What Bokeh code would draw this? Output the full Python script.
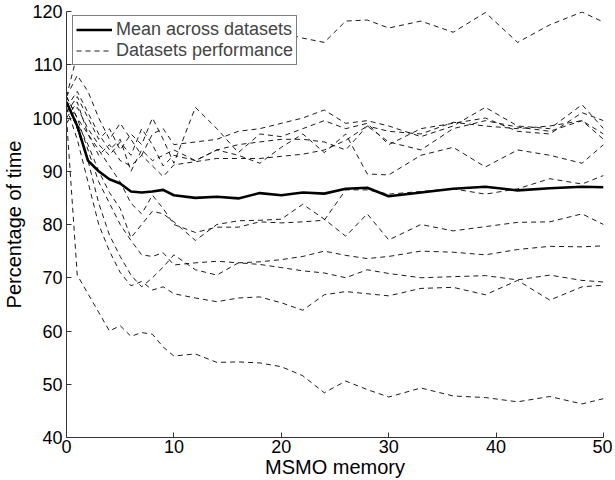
from bokeh.plotting import figure
from bokeh.models import Legend, LegendItem, FixedTicker, Range1d
from bokeh.embed import file_html
from bokeh.resources import INLINE

memory = [0, 1, 2, 3, 4, 5, 6, 7, 8, 9, 10, 12, 14, 16, 18, 20, 22, 24, 26, 28, 30,
          33, 36, 39, 42, 45, 48, 50]

mean_time = [103, 98.5, 92, 90, 88.5, 87.7, 86.2, 86, 86.2, 86.5, 85.5, 85, 85.2, 84.9,
             85.9, 85.5, 86, 85.8, 86.7, 86.9, 85.3, 86, 86.7, 87.1, 86.4, 86.8, 87.1, 87]

ds_top = [104, 112, 115, 116, 116, 116, 116, 116, 116, 116, 116, 116, 116, 116,
          116, 116, 115, 114.2, 118.2, 118.4, 116.9, 118.2, 116.1, 119.8, 114.2, 117.5, 119.9, 118]
ds_a = [104, 108, 105, 100, 96, 99, 96, 93, 97, 98, 95, 95.5, 96, 97.5, 98, 99, 100,
        101.5, 99, 99.5, 98.5, 96.5, 98.5, 102, 98.5, 98, 102.5, 98]
ds_b = [101, 104, 100, 96, 98, 94, 97, 95, 100, 96, 91.5, 102, 98, 93.5, 97, 96.5, 98,
        99.5, 98, 99, 95, 98, 99, 100, 97.5, 97, 101, 99.5]
ds_c = [99, 102, 98, 95, 93, 95.5, 93, 98, 95, 91, 93, 92, 94, 95, 95.5, 96, 96, 95.5,
        94, 98.5, 97.5, 97, 99.2, 98.5, 98, 98.5, 99.5, 97]
ds_d = [100, 103, 97, 93, 95, 92, 91, 93, 91, 89, 91.2, 91.8, 92.4, 92.4, 92.4, 92.8,
        93.2, 94, 95.8, 98.5, 95.5, 94, 98, 99.5, 98.3, 97.5, 99.5, 96]
ds_e = [102, 105, 101, 97, 94, 96, 90, 94, 92, 93, 94, 92, 94, 93, 91.5, 94.5, 97,
        93.5, 97, 89.5, 89.3, 93, 94.5, 90.8, 94, 93, 91.5, 95]
ds_f = [104, 100, 97, 94, 91, 88, 84, 82, 85.5, 83, 80, 78.5, 79.5, 79.5, 80.5, 80.3,
        80.5, 80.8, 86.5, 86.5, 85.7, 86.2, 86.7, 85.7, 86.7, 88.6, 87.6, 89.2]
ds_g = [103, 99, 95, 90, 86, 83, 77.5, 80, 82.5, 82, 80.5, 77, 80, 80.7, 80.8, 81,
        83.8, 81, 77.8, 82, 77.1, 80, 78.8, 79.6, 80.4, 80.5, 82, 80]
ds_h = [104, 100, 94, 88, 84, 80, 77, 74.3, 74, 74.7, 72.4, 72.8, 73.1, 72.8, 73,
        73.4, 74, 75, 74.2, 73.6, 74, 75, 74.8, 74.3, 75.3, 75.9, 75.8, 76]
ds_i = [103, 98, 92, 84, 78, 74, 70.5, 68.3, 70, 72, 74.3, 71.5, 70.5, 72.8, 72.5,
        71.9, 71.3, 70.9, 70, 71.5, 70.8, 70, 70.2, 70.4, 69.6, 70.5, 69.5, 69.2]
ds_j = [102, 96, 88, 80, 75, 71, 68.5, 69.3, 67.7, 68.3, 67, 66.2, 65.5, 66.2, 66.4,
        65.3, 63.9, 66.8, 67.4, 67, 66.6, 68, 68.2, 66.8, 69.5, 65.8, 68.3, 68.6]
ds_k = [100, 70.5, 67, 63.5, 60, 61, 59, 59.7, 59.4, 57, 55.3, 55.7, 54.1, 54.2, 54,
        53.3, 51.6, 48.4, 50.6, 49, 47.6, 49.3, 47.8, 47.5, 46.7, 47.7, 46.3, 47.3]

datasets = [ds_top, ds_a, ds_b, ds_c, ds_d, ds_e, ds_f, ds_g, ds_h, ds_i, ds_j, ds_k]

x_ticks = [0, 10, 20, 30, 40, 50]
y_ticks = [40, 50, 60, 70, 80, 90, 100, 110, 120]

FONT = "Liberation Sans"

p = figure(width=612, height=480, output_backend="svg", toolbar_location=None,
           x_range=Range1d(0, 50), y_range=Range1d(40, 120),
           min_border_left=66, min_border_right=9, min_border_top=11, min_border_bottom=0)
p.outline_line_color = None
p.xgrid.visible = False
p.ygrid.visible = False
p.background_fill_color = "white"

dash_renderers = []
for ds in datasets:
    r = p.line(memory, ds, line_color="black", line_width=0.9, line_dash="5 4")
    dash_renderers.append(r)

mean_r = p.line(memory, mean_time, line_color="black", line_width=2.6)

for ax in (p.xaxis[0], p.yaxis[0]):
    ax.major_tick_in = 5
    ax.major_tick_out = 0
    ax.minor_tick_line_color = None
    ax.axis_line_color = "#333333"
    ax.major_tick_line_color = "#333333"
    ax.major_label_text_font = FONT
    ax.major_label_text_font_size = "18px"
    ax.major_label_text_color = "black"
    ax.axis_label_text_font = FONT
    ax.axis_label_text_font_size = "20px"
    ax.axis_label_text_font_style = "normal"
    ax.axis_label_text_color = "black"

p.xaxis.ticker = FixedTicker(ticks=x_ticks)
p.yaxis.ticker = FixedTicker(ticks=y_ticks)
p.xaxis.axis_label = "MSMO memory"
p.yaxis.axis_label = "Percentage of time"
p.xaxis.major_label_standoff = 2
p.yaxis.major_label_standoff = 4
p.xaxis.axis_label_standoff = 0
p.yaxis.axis_label_standoff = 4

legend = Legend(items=[LegendItem(label="Mean across datasets", renderers=[mean_r]),
                       LegendItem(label="Datasets performance", renderers=[dash_renderers[0]])],
                location=(6, 372))
legend.border_line_color = "black"
legend.border_line_width = 1
legend.background_fill_alpha = 1
legend.label_text_font = FONT
legend.label_text_font_size = "18px"
legend.label_height = 19
legend.glyph_height = 19
legend.glyph_width = 36
legend.label_standoff = 4
legend.padding = 3
legend.spacing = 0
legend.margin = 0
p.add_layout(legend, "center")

open("out.html", "w").write(file_html(p, INLINE))
